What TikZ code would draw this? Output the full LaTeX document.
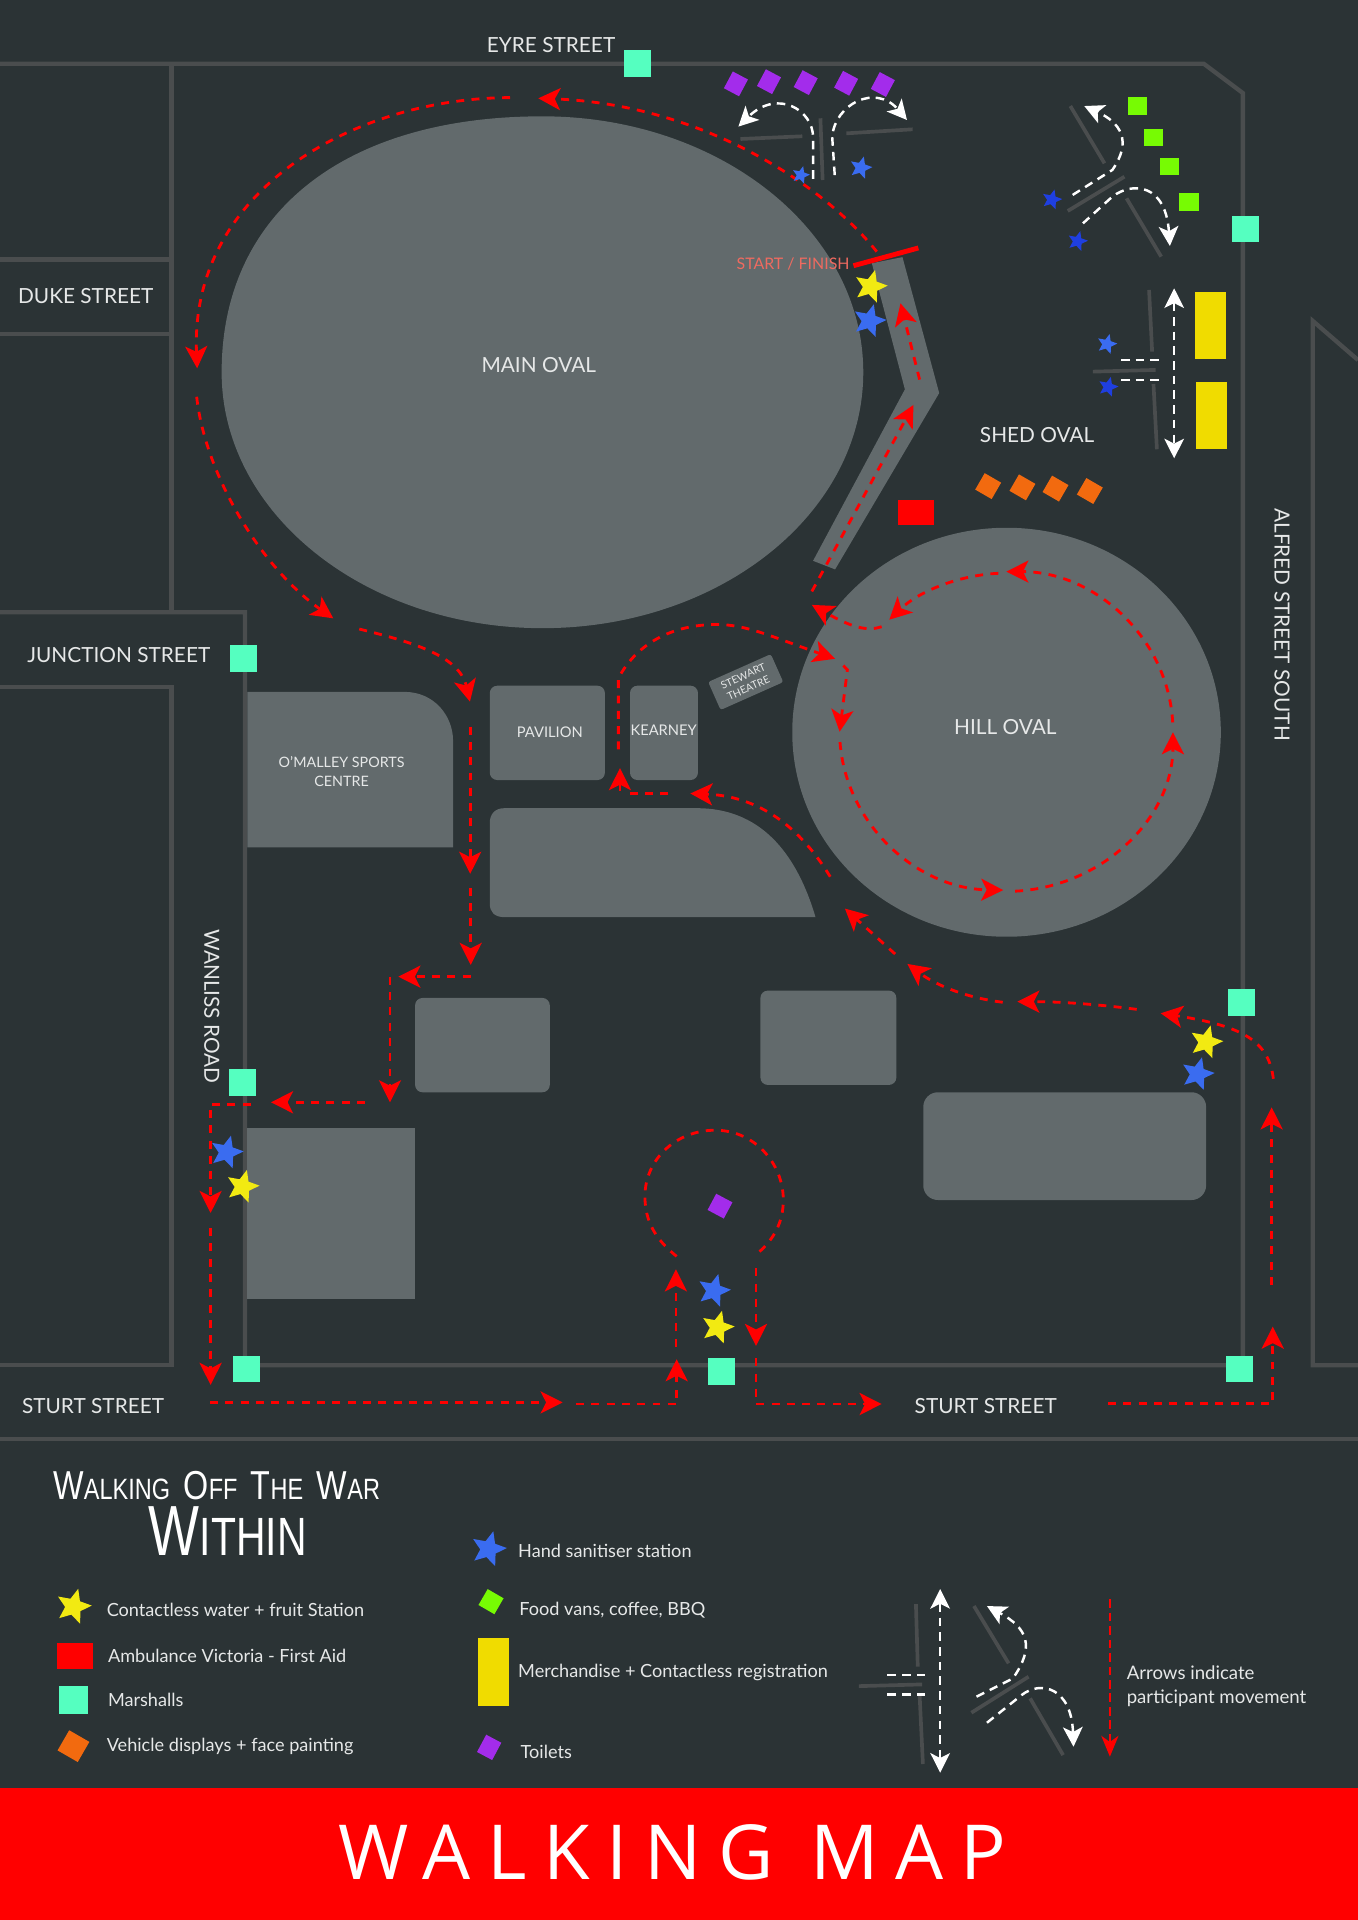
\documentclass[tikz,border=0pt]{standalone}
\usepackage{fontspec}
\usetikzlibrary{shapes.geometric,arrows.meta}
\setmainfont{Lato}
\newfontfamily\titlefont[LetterSpace=22]{Open Sans}
\newfontfamily\grungea[FakeStretch=0.8]{Liberation Sans}
\newfontfamily\grungeb[FakeStretch=0.76]{Liberation Sans}
\definecolor{bg}{HTML}{2B3335}
\definecolor{shp}{HTML}{626A6C}
\definecolor{road}{HTML}{4A4D4E}
\definecolor{inner}{HTML}{4A4D4E}
\definecolor{teal}{HTML}{55FFC0}
\definecolor{ystar}{HTML}{F2EA12}
\definecolor{bstar}{HTML}{3A6CF0}
\definecolor{dstar}{HTML}{1F3FE0}
\definecolor{purp}{HTML}{A32CEB}
\definecolor{oran}{HTML}{F26A0F}
\definecolor{gren}{HTML}{77FB03}
\definecolor{merch}{HTML}{F0DC00}
\definecolor{txt}{HTML}{E6E8E8}
\definecolor{sf}{HTML}{EF6A60}
\newcommand{\bigsm}[2]{{\fontsize{33}{36}\selectfont #1}{\fontsize{24}{28}\selectfont #2}}
\tikzset{
  x=1pt,y=-1pt,
  roadline/.style={draw=road,line width=3.5pt},
  tickline/.style={draw=inner,line width=3pt},
  rd/.style={draw=red,line width=2.3pt,dash pattern=on 6.5pt off 6pt},
  rdh/.style={rd,-{Stealth[length=18pt,width=18pt,inset=4.5pt]}},
  wd/.style={draw=white,line width=2pt,dash pattern=on 7pt off 5pt},
  wdh/.style={wd,-{Stealth[length=16pt,width=16pt,inset=4pt]}},
  wdd/.style={wd,{Stealth[length=16pt,width=16pt,inset=4pt]}-{Stealth[length=16pt,width=16pt,inset=4pt]}},
  lbl/.style={text=txt,font=\fontsize{17}{20}\selectfont,inner sep=0pt,align=center},
  lbs/.style={text=txt,font=\fontsize{12}{15.5}\selectfont,inner sep=0pt,align=center},
  leg/.style={text=txt,font=\fontsize{14.8}{19}\selectfont,inner sep=0pt,anchor=west,align=left},
  st/.style={star,star points=5,star point ratio=2.2,inner sep=0pt,draw=none},
  box/.style={rectangle,inner sep=0pt,draw=none},
  mar/.style={box,fill=teal,minimum width=22pt,minimum height=22pt},
  toi/.style={box,fill=purp,minimum width=14pt,minimum height=15.5pt,rotate=-28},
  veh/.style={box,fill=oran,minimum width=15.5pt,minimum height=15.5pt,rotate=-30},
  foo/.style={box,fill=gren,minimum width=16pt,minimum height=14pt},
}
\begin{document}
\begin{tikzpicture}
\useasboundingbox (0,0) rectangle (1109,1568);
\fill[bg] (0,0) rectangle (1109,1568);
% roads
\draw[roadline] (0,52) -- (983,52) -- (1015,76) -- (1015,1115) -- (200,1115) -- (200,500) -- (0,500);
\draw[roadline] (140,52) -- (140,500);
\draw[roadline] (0,212) -- (140,212);
\draw[roadline] (0,273) -- (140,273);
\draw[roadline] (0,561) -- (140,561) -- (140,1115) -- (0,1115);
\draw[roadline] (0,1175) -- (1109,1175);
\draw[roadline] (1109,294) -- (1072,262) -- (1072,1115) -- (1109,1115);
% buildings and ovals
\fill[shp] (443,95) .. controls (587.7,95) and (705,188.6) .. (705,304) .. controls (705,419.4) and (587.7,513) .. (443,513) .. controls (298.3,513) and (181,419.4) .. (181,304) .. controls (181,174.4) and (280.6,95) .. (443,95) -- cycle;
\fill[shp] (822,598) ellipse [x radius=175,y radius=167];
\fill[shp] (712,215) -- (737,210) -- (767,321) -- (682,465) -- (664,458) -- (739,318) -- cycle;
\fill[shp] (202,565) -- (330,565) .. controls (355,565) and (370,585) .. (370,605) -- (370,692) -- (202,692) -- cycle;
\fill[shp,rounded corners=6pt] (400,560) rectangle (494,637);
\fill[shp,rounded corners=6pt] (514.5,560) rectangle (570,637);
\fill[shp] (412,660) -- (569,660) .. controls (620,660) and (650,695) .. (666,749) -- (412,749) .. controls (404,749) and (400,745) .. (400,738) -- (400,672) .. controls (400,665) and (404,660) .. (412,660) -- cycle;
\fill[shp,rounded corners=6pt] (339,815) rectangle (449,892);
\fill[shp,rounded corners=6pt] (621,809) rectangle (732,886);
\fill[shp,rounded corners=12pt] (754,892) rectangle (985,980);
\fill[shp] (202,921) rectangle (339,1061);
\node[box,fill=shp,rounded corners=2pt,minimum width=56pt,minimum height=25pt,rotate=24,text=txt,align=center,font=\fontsize{8.5}{10.5}\selectfont] (stewart) at (609,557) {STEWART\\THEATRE};
% labels
\node[lbl] (eyre) at (450,37) {EYRE STREET};
\node[lbl] (duke) at (70,242) {DUKE STREET};
\node[lbl] (mainoval) at (440,298) {MAIN OVAL};
\node[lbl] (shed) at (847,355) {SHED OVAL};
\node[lbl] (junction) at (97,535) {JUNCTION STREET};
\node[lbl] (hill) at (821,594) {HILL OVAL};
\node[lbl,rotate=-90] (alfred) at (1047,510) {ALFRED STREET SOUTH};
\node[lbl,rotate=-90] (wanliss) at (173,822) {WANLISS ROAD};
\node[lbl] (sturta) at (76,1148) {STURT STREET};
\node[lbl] (sturtb) at (805,1148) {STURT STREET};
\node[lbs] (pav) at (449,598) {PAVILION};
\node[lbs] (kea) at (542,596) {KEARNEY};
\node[lbs,font=\fontsize{11.7}{16}\selectfont] (oma) at (279,630) {O’MALLEY SPORTS\\CENTRE};
\node[text=sf,font=\fontsize{13}{15}\selectfont,inner sep=0pt,anchor=east] (sfl) at (694,216) {START / FINISH};
% markers: marshalls
\node[mar] (m1) at (521,52) {};
\node[mar] (m2) at (1017,187) {};
\node[mar] (m3) at (1014,819) {};
\node[mar] (m4) at (1012,1118) {};
\node[mar] (m5) at (589,1120) {};
\node[mar] (m6) at (201,1118) {};
\node[mar] (m7) at (198,884) {};
\node[mar] (m8) at (199,538) {};
% toilets, vehicles, food
\node[toi] (t1) at (601,68.5) {};
\node[toi] (t2) at (628,66.7) {};
\node[toi] (t3) at (658,67.5) {};
\node[toi] (t4) at (691,68) {};
\node[toi] (t5) at (721,69) {};
\node[toi,minimum width=15pt,minimum height=15pt] (t6) at (588,985) {};
\node[veh] (v1) at (807,397) {};
\node[veh] (v2) at (835,398) {};
\node[veh] (v3) at (862,399) {};
\node[veh] (v4) at (890,401) {};
\node[foo] (f1) at (929,86.6) {};
\node[foo] (f2) at (942,112) {};
\node[foo] (f3) at (955,136) {};
\node[foo] (f4) at (971,165) {};
\fill[merch] (975.5,238.7) rectangle (1001,293);
\fill[merch] (976.6,312) rectangle (1002,367);
\fill[red] (733,408) rectangle (763,429);
% start bar
\draw[red,line width=4pt] (697,217) -- (750,202.5);
% marks NE
\draw[tickline] (604.7,113.5) -- (655.2,111.3);
\draw[tickline] (670,96.6) -- (671.8,147);
\draw[tickline] (691.2,108.9) -- (745.3,105.6);
\draw[tickline] (874.1,86.6) -- (902,133.4);
\draw[tickline] (872,172.3) -- (918.3,144.3);
\draw[tickline] (920,162) -- (948.3,209.6);
\draw[tickline] (938.4,236.8) -- (940.9,287.2);
\draw[tickline] (892.5,303.5) -- (943.7,302.1);
\draw[tickline] (942,313.6) -- (944.8,366.9);
% white arrows
\draw[wdh] (664,146) -- (664,112) .. controls (664,90) and (635,72) .. (603,103.4);
\draw[wdh] (681.7,143) -- (679.6,111.6) .. controls (682,85) and (715,68) .. (740.7,98);
\draw[wdh] (876,159.2) -- (908.4,138.8) .. controls (925,115) and (915,100) .. (885.5,86.6);
\draw[wdh] (884.4,182.4) -- (908.4,160.6) .. controls (925,148) and (952,150) .. (955.4,200.9);
\draw[wdd] (958.9,235.5) -- (958.9,374.3);
\draw[wd] (915.5,294) -- (949,294);
\draw[wd] (915.5,310.3) -- (949,310.3);
% red route
\draw[rdh] (716,205.5) .. controls (670,148) and (570,85) .. (439.6,80.3);
\draw[rdh] (416.5,79.7) .. controls (290,80) and (155,155) .. (161,300.8);
\draw[rdh] (160.6,324) .. controls (168,390) and (215,465) .. (272.2,505);
\draw[rdh] (293.4,513.7) .. controls (335,524) and (375,535) .. (383.8,573);
\draw[rdh] (384,593.4) -- (384,713.6);
\draw[rdh] (384.4,725) -- (384.4,788);
\draw[rdh] (384.4,797.6) -- (325.3,797.6);
\draw[rdh] (318.5,797.6) -- (318.5,900.2);
\draw[rdh] (298,900.2) -- (221.3,900.2);
\draw[rdh] (204.7,901.8) -- (172,901.8) -- (172,990.6);
\draw[rdh] (172,1003) -- (172,1131);
\draw[rdh] (171.5,1145.3) -- (459.5,1145.3);
\draw[rdh] (470.4,1146.6) -- (552.6,1146.6) -- (552.6,1110);
\draw[rdh] (552,1099.7) -- (552,1036.6);
\draw[rd] (552.6,1026) .. controls (535,1012) and (526.7,997) .. (526.7,977) .. controls (526.7,947) and (552,923) .. (584,923) .. controls (616,923) and (639.7,950) .. (639.7,980) .. controls (639.7,998) and (632,1012) .. (619.3,1023);
\draw[rdh] (617.4,1035.8) -- (617.4,1099.2);
\draw[rdh] (617.4,1109.3) -- (617.4,1146.6) -- (720,1146.6);
\draw[rdh] (905,1146.5) -- (1039.4,1146.5) -- (1039.4,1083.4);
\draw[rdh] (1038.5,1049.4) -- (1038.5,904.3);
\draw[rdh] (1039.9,881) .. controls (1036,850) and (1015,838) .. (947.9,827.5);
\draw[rdh] (928.3,824.3) .. controls (895,820) and (865,818) .. (830.8,818);
\draw[rdh] (818.9,818.5) .. controls (790,815) and (765,805) .. (741,787.2);
\draw[rdh] (731,779.1) -- (690,742);
\draw[rdh] (678,716) .. controls (650,670) and (615,650) .. (563.8,648);
\draw[rd] (545.7,648) -- (513,648);
\draw[rdh] (506.3,646) -- (506.3,627.3);
\draw[rdh] (505,612) -- (505,554) .. controls (520,525) and (550,510) .. (585,510) .. controls (610,510) and (630,520) .. (682,538);
\draw[rdh] (688.7,543.5) -- (692,547) -- (685.7,597.6);
\draw[rdh] (686,606) arc[start angle=176,end angle=91,x radius=136,y radius=130];
\draw[rdh] (829,727.8) arc[start angle=87,end angle=0,x radius=136,y radius=130];
\draw[rdh] (957.7,590) arc[start angle=-3,end angle=-90,x radius=136,y radius=130];
\draw[rdh] (815.3,468.2) arc[start angle=-93,end angle=-135,x radius=136,y radius=130];
\draw[rdh] (720,511.8) .. controls (708,516) and (695,512) .. (663,494);
\draw[rdh] (663,483) -- (746,330.7);
\draw[rdh] (751,310) -- (735.4,247.7);
% stars map
\node[st,fill=ystar,minimum size=28pt,rotate=-15] (y1) at (711,234) {};
\node[st,fill=ystar,minimum size=28pt,rotate=-15] (y2) at (985,851) {};
\node[st,fill=ystar,minimum size=28pt,rotate=-15] (y3) at (198,969) {};
\node[st,fill=ystar,minimum size=28pt,rotate=-15] (y4) at (586,1084) {};
\node[st,fill=bstar,minimum size=28pt,rotate=-15] (b1) at (710,262) {};
\node[st,fill=bstar,minimum size=28pt,rotate=-15] (b2) at (978,877) {};
\node[st,fill=bstar,minimum size=28pt,rotate=-15] (b3) at (185,941) {};
\node[st,fill=bstar,minimum size=28pt,rotate=-15] (b4) at (583,1054) {};
\node[st,fill=bstar,minimum size=15pt,rotate=-15] (b5) at (654,143) {};
\node[st,fill=bstar,minimum size=19pt,rotate=-15] (b6) at (703,137) {};
\node[st,fill=dstar,minimum size=17pt,rotate=-15] (d1) at (859,163) {};
\node[st,fill=dstar,minimum size=17pt,rotate=-15] (d2) at (880,197) {};
\node[st,fill=bstar,minimum size=17pt,rotate=-15] (d3) at (904,281) {};
\node[st,fill=dstar,minimum size=17pt,rotate=-15] (d4) at (905,316) {};
% legend
\node[inner sep=0pt,text=white,font=\grungea\fontsize{24}{28}\selectfont] (title1) at (177,1213) {\bigsm{W}{ALKING}\hspace{11pt}\bigsm{O}{FF}\hspace{11pt}\bigsm{T}{HE}\hspace{11pt}\bigsm{W}{AR}};
\node[inner sep=0pt,text=white,font=\grungeb\fontsize{58}{62}\selectfont] (title2) at (186,1250) {W\fontsize{44}{48}\selectfont ITHIN};
\node[st,fill=ystar,minimum size=30pt,rotate=-15] (ly) at (60,1312) {};
\fill[red] (46.7,1342) rectangle (76,1363);
\fill[teal] (48,1377) rectangle (72,1400);
\node[box,fill=oran,minimum width=19pt,minimum height=19pt,rotate=-30] (lo) at (60,1426) {};
\node[st,fill=bstar,minimum size=30pt,rotate=-15] (lb) at (399,1265) {};
\node[box,fill=gren,minimum width=15pt,minimum height=15pt,rotate=-30] (lg) at (401,1308) {};
\fill[merch] (390,1338) rectangle (416,1393);
\node[box,fill=purp,minimum width=14pt,minimum height=16pt,rotate=-28] (lp) at (399.5,1427) {};
\node[leg] (l1) at (87,1315) {Contactless water + fruit Station};
\node[leg] (l2) at (88,1352) {Ambulance Victoria - First Aid};
\node[leg] (l3) at (88,1388.5) {Marshalls};
\node[leg] (l4) at (87,1426) {Vehicle displays + face painting};
\node[leg] (l5) at (423,1266.5) {Hand sanitiser station};
\node[leg] (l6) at (424,1315) {Food vans, coffee, BBQ};
\node[leg] (l7) at (423,1366) {Merchandise + Contactless registration};
\node[leg] (l8) at (425,1430.5) {Toilets};
\node[leg,font=\fontsize{15.2}{19}\selectfont] (l9) at (920,1377) {Arrows indicate\\participant movement};
% legend marks
\draw[tickline] (748,1310) -- (749.5,1361);
\draw[tickline] (701.4,1377) -- (753,1375.6);
\draw[tickline] (751,1384) -- (753.7,1440.6);
\draw[tickline] (795.4,1311.6) -- (823.7,1358.4);
\draw[tickline] (793.3,1398.7) -- (840,1369.3);
\draw[tickline] (841.3,1387) -- (868.2,1433.3);
\draw[wdd] (767.8,1297.7) -- (767.8,1447.7);
\draw[wd] (724.7,1368) -- (760,1368);
\draw[wd] (724.7,1383.7) -- (760,1383.7);
\draw[wdh] (797.5,1385.6) -- (827.2,1370.7) .. controls (845,1345) and (840,1330) .. (806,1311.6);
\draw[wdh] (806,1406.9) -- (834.3,1384.3) .. controls (850,1372) and (875,1378) .. (876.7,1426.5);
\draw[draw=red,line width=1.5pt,dash pattern=on 7pt off 4pt,-{Stealth[length=17pt,width=14pt,inset=5pt]}] (906.4,1306) -- (906.4,1434.6);
% banner
\fill[red] (0,1460) rectangle (1109,1568);
\node[inner sep=0pt,text=white,font=\titlefont\fontsize{62}{70}\selectfont] (banner) at (549,1513) {WALKING MAP};
\end{tikzpicture}
\end{document}
